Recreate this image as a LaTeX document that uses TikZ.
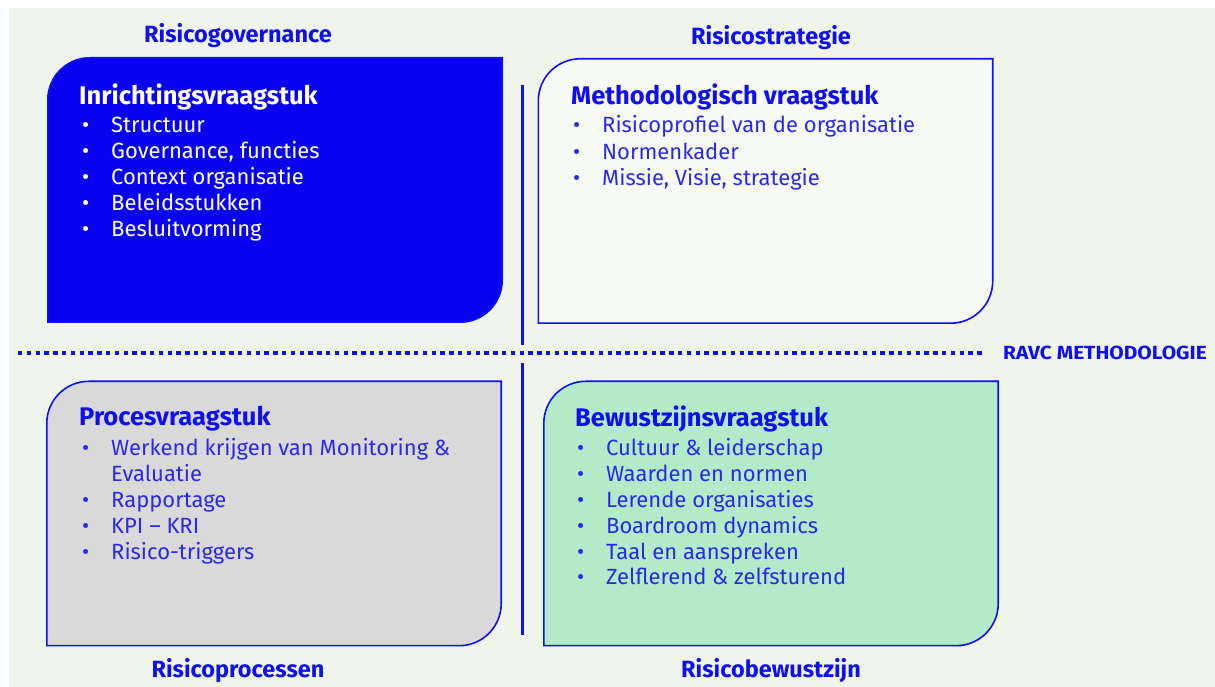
\documentclass[tikz,border=0pt]{standalone}
\usepackage{fontspec}
\setmainfont{Fira Sans}
\newfontfamily\widefont[FakeStretch=1.1]{Fira Sans}
\usetikzlibrary{positioning, calc}

\definecolor{ravcblue}{HTML}{1010EE}
\definecolor{ravctext}{HTML}{2A2AE6}
\definecolor{ravcbg}{HTML}{F0F5EC}
\definecolor{govfill}{HTML}{0A00F0}
\definecolor{stratfill}{HTML}{F8FAF6}
\definecolor{procfill}{HTML}{D9D9D9}
\definecolor{bewfill}{HTML}{B3EAC8}

% box with two rounded corners (top left, bottom right)
\newcommand{\quadshape}[2]{%
  \draw[ravcblue, line width=1.6pt, fill=#2] (#1.south west) -- ([yshift=-42pt]#1.north west)
    arc[start angle=180, end angle=90, radius=42pt] -- (#1.north east) -- ([yshift=42pt]#1.south east)
    arc[start angle=0, end angle=-90, radius=42pt] -- cycle;}
\newcommand{\bulletlist}[1]{\begin{tabular}[t]{@{}p{29pt}@{}l@{}}#1\end{tabular}}

\begin{document}
\begin{tikzpicture}[x=1pt,y=1pt,
  quad/.style={minimum width=454pt, minimum height=264pt, inner sep=0pt},
  heading/.style={font=\bfseries\fontsize{25.5}{30}\selectfont, text=ravcblue, anchor=west, inner sep=0pt},
  list/.style={font=\fontsize{22}{25.8}\selectfont, text=ravctext, anchor=base west, inner sep=0pt},
  axis/.style={font=\bfseries\fontsize{23.5}{26}\selectfont, text=ravcblue, inner sep=0pt}]

  \fill[white] (0,0) rectangle (1215,687);
  \fill[ravcbg] (9,0) rectangle (1215,679);
  \useasboundingbox (0,0) rectangle (1215,687);

  % Define boxes
  \node[quad] (gov) at (275,497) {};
  \node[quad] (strat) at (765.5,496) {};
  \node[quad] (proc) at (274,173.5) {};
  \node[quad] (bew) at (771,173.5) {};
  \quadshape{gov}{govfill}
  \quadshape{strat}{stratfill}
  \quadshape{proc}{procfill}
  \quadshape{bew}{bewfill}

  % Axes
  \coordinate (vtop) at (522,602);
  \coordinate (vmid1) at (522,342);
  \coordinate (vmid2) at (522,324);
  \coordinate (vbot) at (522,52);
  \draw[ravcblue, line width=3pt] (vtop) -- (vmid1);
  \draw[ravcblue, line width=3pt] (vmid2) -- (vbot);

  \node[font=\widefont\bfseries\fontsize{19}{20}\selectfont, text=ravcblue, anchor=west, inner sep=0pt] (ravc) at (1003,334) {RAVC METHODOLOGIE};
  \coordinate (dotstart) at (18,334);
  \draw[ravcblue, line width=4pt, dash pattern=on 4.4pt off 4.4pt] (dotstart) -- ([xshift=-18pt]ravc.west);

  % Quadrant labels
  \node[axis] (govlabel) at (238,651) {Risicogovernance};
  \node[axis] (stratlabel) at (771,649) {Risicostrategie};
  \node[axis] (proclabel) at (238,16) {Risicoprocessen};
  \node[axis] (bewlabel) at (771,16) {Risicobewustzijn};

  % Headings
  \node[heading, text=white] (govtitle) at (79,590) {Inrichtingsvraagstuk};
  \node[heading] (strattitle) at (571,590) {Methodologisch vraagstuk};
  \node[heading] (proctitle) at (79,268) {Procesvraagstuk};
  \node[heading] (bewtitle) at (575,268) {Bewustzijnsvraagstuk};

  % Lists
  \node[list, text=white] (govlist) at (82,554) {\bulletlist{%
    \textbullet & Structuur\\
    \textbullet & Governance, functies\\
    \textbullet & Context organisatie\\
    \textbullet & Beleidsstukken\\
    \textbullet & Besluitvorming}};
  \node[list, font=\fontsize{22}{26.5}\selectfont] (stratlist) at (573,554) {\bulletlist{%
    \textbullet & Risicoprofiel van de organisatie\\
    \textbullet & Normenkader\\
    \textbullet & Missie, Visie, strategie}};
  \node[list] (proclist) at (82,231) {\bulletlist{%
    \textbullet & Werkend krijgen van Monitoring \&\\
                & Evaluatie\\
    \textbullet & Rapportage\\
    \textbullet & KPI -- KRI\\
    \textbullet & Risico-triggers}};
  \node[list] (bewlist) at (577,231) {\bulletlist{%
    \textbullet & Cultuur \& leiderschap\\
    \textbullet & Waarden en normen\\
    \textbullet & Lerende organisaties\\
    \textbullet & Boardroom dynamics\\
    \textbullet & Taal en aanspreken\\
    \textbullet & Zelflerend \& zelfsturend}};
\end{tikzpicture}
\end{document}
